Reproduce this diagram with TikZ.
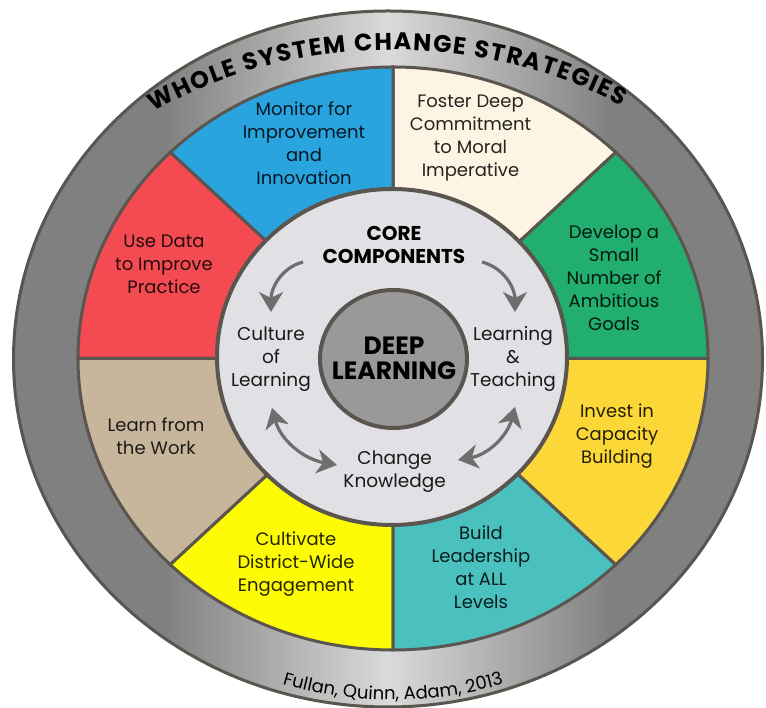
\documentclass[tikz,border=0pt]{standalone}
\usepackage{fontspec}
\setmainfont{Poppins}
\usetikzlibrary{arrows.meta, decorations.text}

\definecolor{rim}{HTML}{5B5550}
\definecolor{ringgrey}{HTML}{808080}
\definecolor{ringlight}{HTML}{DADADA}
\definecolor{segblue}{HTML}{29A4DE}
\definecolor{segcream}{HTML}{FDF4E3}
\definecolor{seggreen}{HTML}{22AE6E}
\definecolor{seggold}{HTML}{FBD738}
\definecolor{segteal}{HTML}{4AC1BF}
\definecolor{segyellow}{HTML}{FDFC06}
\definecolor{segtan}{HTML}{C7B59C}
\definecolor{segred}{HTML}{F44B53}
\definecolor{corefill}{HTML}{E1E1E5}
\definecolor{deepfill}{HTML}{999999}
\definecolor{arrowgrey}{HTML}{6E6E6E}

\pgfdeclarehorizontalshading{ringshade}{100bp}{color(0bp)=(ringgrey); color(35bp)=(ringgrey); color(50bp)=(ringlight); color(65bp)=(ringgrey); color(100bp)=(ringgrey)}

\begin{document}
\begin{tikzpicture}[x=1pt, y=1pt]
  \tikzset{>={Stealth[length=20pt, width=24pt, inset=6pt]},
    rimline/.style={draw=rim, line width=3pt},
    seg/.style={align=center, font=\fontsize{18}{23}\selectfont, text=black, text opacity=0.85},
    comp/.style={align=center, font=\fontsize{18.5}{23}\selectfont, text=black!90},
    cycle arrow/.style={draw=arrowgrey, line width=3.2pt}
  }
  \useasboundingbox (0,0) rectangle (766,708);

  % outer ring
  \shadedraw[shading=ringshade, rimline] (388,349) ellipse [x radius=374.5, y radius=348];

  % strategy segments
  \coordinate (c) at (393,349.5);
  \filldraw[fill=segcream, rimline] (c) -- ++(45:315 and 291.5) arc[start angle=45, end angle=90, x radius=315, y radius=291.5] -- cycle;
  \filldraw[fill=segblue, rimline] (c) -- ++(90:315 and 291.5) arc[start angle=90, end angle=135, x radius=315, y radius=291.5] -- cycle;
  \filldraw[fill=segred, rimline] (c) -- ++(135:315 and 291.5) arc[start angle=135, end angle=180, x radius=315, y radius=291.5] -- cycle;
  \filldraw[fill=segtan, rimline] (c) -- ++(180:315 and 291.5) arc[start angle=180, end angle=225, x radius=315, y radius=291.5] -- cycle;
  \filldraw[fill=segyellow, rimline] (c) -- ++(225:315 and 291.5) arc[start angle=225, end angle=270, x radius=315, y radius=291.5] -- cycle;
  \filldraw[fill=segteal, rimline] (c) -- ++(270:315 and 291.5) arc[start angle=270, end angle=315, x radius=315, y radius=291.5] -- cycle;
  \filldraw[fill=seggold, rimline] (c) -- ++(315:315 and 291.5) arc[start angle=315, end angle=360, x radius=315, y radius=291.5] -- cycle;
  \filldraw[fill=seggreen, rimline] (c) -- ++(0:315 and 291.5) arc[start angle=0, end angle=45, x radius=315, y radius=291.5] -- cycle;

  % core circles
  \filldraw[fill=corefill, draw=rim, line width=4pt] (392,351) ellipse [x radius=175, y radius=168];
  \filldraw[fill=deepfill, draw=rim, line width=4pt] (393.5,349) ellipse [x radius=73.5, y radius=69];

  % ring titles
  \path[decorate, decoration={text along path, text align=fit to path,
      text={|\bfseries\fontsize{24}{24}\selectfont|WHOLE SYSTEM CHANGE STRATEGIES}}]
    ([shift={(127:398 and 308.5)}]c) arc[start angle=127, end angle=55, x radius=398, y radius=308.5];
  \path[decorate, decoration={text along path, text align=center,
      text={|\fontsize{18}{18}\selectfont|Fullan, Quinn, Adam, 2013}}]
    ([shift={(235:367 and 341.5)}]c) arc[start angle=235, end angle=305, x radius=367, y radius=341.5];

  \node[seg] (monitor) at (304,565) {Monitor for\\Improvement\\and\\Innovation};
  \node[seg] (foster) at (470.5,570.3) {Foster Deep\\Commitment\\to Moral\\Imperative};
  \node[seg] (usedata) at (164,444) {Use Data\\to Improve\\Practice};
  \node[seg] (develop) at (614,430.3) {Develop a\\Small\\Number of\\Ambitious\\Goals};
  \node[seg] (learnwork) at (156,272) {Learn from\\the Work};
  \node[seg] (invest) at (617,271.7) {Invest in\\Capacity\\Building};
  \node[seg] (cultivate) at (296,143.6) {Cultivate\\District-Wide\\Engagement};
  \node[seg] (build) at (481,141) {Build\\Leadership\\at ALL\\Levels};

  \node[align=center, font=\bfseries\fontsize{20}{22.5}\selectfont] (core) at (394,463) {CORE\\COMPONENTS};
  \node[comp] (culture) at (271,348.6) {Culture\\of\\Learning};
  \node[comp] (teaching) at (513,349) {Learning\\\&\\Teaching};
  \node[comp] (change) at (394.7,236.2) {Change\\Knowledge};
  \node[align=center, font=\bfseries\fontsize{25}{25}\selectfont] (deep) at (394,350.2) {DEEP\\LEARNING};

  % cycle arrows
  \coordinate (a1s) at (303,446); \coordinate (a1e) at (271,396);
  \coordinate (a2s) at (482,446); \coordinate (a2e) at (515,396);
  \coordinate (a3a) at (272,300); \coordinate (a3b) at (337,243);
  \coordinate (a4a) at (458,248); \coordinate (a4b) at (515,301);
  \draw[cycle arrow, ->] (a1s) to[out=195, in=90] (a1e);
  \draw[cycle arrow, ->] (a2s) to[out=-15, in=90] (a2e);
  \draw[cycle arrow, <->] (a3a) to[out=-75, in=170] (a3b);
  \draw[cycle arrow, <->] (a4b) to[out=-105, in=10] (a4a);
\end{tikzpicture}
\end{document}
